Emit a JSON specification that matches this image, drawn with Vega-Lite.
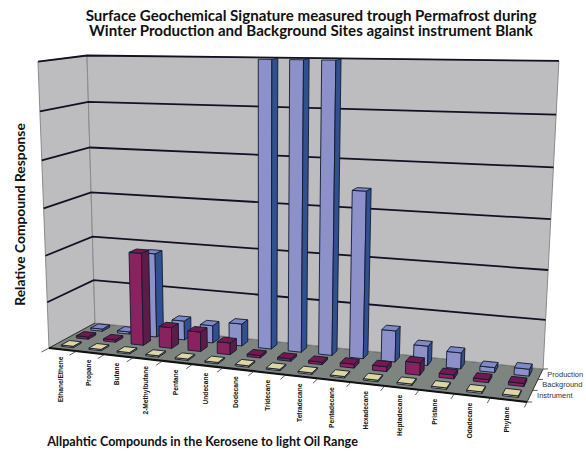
{"$schema":"https://vega.github.io/schema/vega-lite/v6.json","width":586,"height":451,"padding":0,"autosize":{"type":"none"},"background":"white","view":{"stroke":null},
"title":{"text":["Surface Geochemical Signature measured trough Permafrost during","Winter Production and Background Sites against instrument Blank"],"anchor":"middle","dx":18,"dy":43,"font":"Lato","fontWeight":"bold","fontSize":15.1,"lineHeight":15,"color":"#111"},
"datasets":{
"planes":[{"plane":"left"},{"plane":"floor"},{"plane":"back"}],
"levels":[{"level":0},{"level":1},{"level":2},{"level":3},{"level":4},{"level":5},{"level":6}],
"ticks":[{"t":0},{"t":1},{"t":2},{"t":3},{"t":4},{"t":5},{"t":6},{"t":7},{"t":8},{"t":9},{"t":10},{"t":11},{"t":12},{"t":13},{"t":14},{"t":15}],
"depthTicks":[{"t":0},{"t":1},{"t":2},{"t":3}],
"edge":[{"edge":"front"}],
"compounds":[{"compound":"Ethane/Ethene"},{"compound":"Propane"},{"compound":"Butane"},{"compound":"2-Methylbutane"},{"compound":"Pentane"},{"compound":"Undecane"},{"compound":"Dodecane"},{"compound":"Tridecane"},{"compound":"Tetradecane"},{"compound":"Pentadecane"},{"compound":"Hexadecane"},{"compound":"Heptadecane"},{"compound":"Pristane"},{"compound":"Odadecane"},{"compound":"Phytane"}],
"seriesNames":[{"series":"Instrument"},{"series":"Background"},{"series":"Production"}],
"bars":[
{"compound":"Ethane/Ethene","series":"Production","value":0.05},{"compound":"Propane","series":"Production","value":0.05},{"compound":"Butane","series":"Production","value":1.85},{"compound":"2-Methylbutane","series":"Production","value":0.42},{"compound":"Pentane","series":"Production","value":0.38},{"compound":"Undecane","series":"Production","value":0.48},{"compound":"Dodecane","series":"Production","value":6.5},{"compound":"Tridecane","series":"Production","value":6.5},{"compound":"Tetradecane","series":"Production","value":6.5},{"compound":"Pentadecane","series":"Production","value":3.45},{"compound":"Hexadecane","series":"Production","value":0.65},{"compound":"Heptadecane","series":"Production","value":0.4},{"compound":"Pristane","series":"Production","value":0.33},{"compound":"Odadecane","series":"Production","value":0.1},{"compound":"Phytane","series":"Production","value":0.14},
{"compound":"Ethane/Ethene","series":"Background","value":0.05},{"compound":"Propane","series":"Background","value":0.05},{"compound":"Butane","series":"Background","value":2},{"compound":"2-Methylbutane","series":"Background","value":0.45},{"compound":"Pentane","series":"Background","value":0.42},{"compound":"Undecane","series":"Background","value":0.25},{"compound":"Dodecane","series":"Background","value":0.05},{"compound":"Tridecane","series":"Background","value":0.05},{"compound":"Tetradecane","series":"Background","value":0.05},{"compound":"Pentadecane","series":"Background","value":0.08},{"compound":"Hexadecane","series":"Background","value":0.1},{"compound":"Heptadecane","series":"Background","value":0.25},{"compound":"Pristane","series":"Background","value":0.08},{"compound":"Odadecane","series":"Background","value":0.06},{"compound":"Phytane","series":"Background","value":0.06},
{"compound":"Ethane/Ethene","series":"Instrument","value":0.03},{"compound":"Propane","series":"Instrument","value":0.03},{"compound":"Butane","series":"Instrument","value":0.03},{"compound":"2-Methylbutane","series":"Instrument","value":0.03},{"compound":"Pentane","series":"Instrument","value":0.03},{"compound":"Undecane","series":"Instrument","value":0.03},{"compound":"Dodecane","series":"Instrument","value":0.03},{"compound":"Tridecane","series":"Instrument","value":0.03},{"compound":"Tetradecane","series":"Instrument","value":0.03},{"compound":"Pentadecane","series":"Instrument","value":0.03},{"compound":"Hexadecane","series":"Instrument","value":0.03},{"compound":"Heptadecane","series":"Instrument","value":0.03},{"compound":"Pristane","series":"Instrument","value":0.03},{"compound":"Odadecane","series":"Instrument","value":0.03},{"compound":"Phytane","series":"Instrument","value":0.03}
]},
"encoding":{"x":{"field":"X","type":"quantitative","scale":{"domain":[0,586],"range":[0,586],"nice":false},"axis":{"title":"Allpahtic Compounds in the Kerosene to light Oil Range","titleFont":"Lato","titleFontWeight":"bold","titleFontSize":12.6,"titleColor":"#111","titleX":202,"titleY":-10,"titleBaseline":"middle","labels":false,"ticks":false,"domain":false,"grid":false}},
"y":{"field":"Y","type":"quantitative","scale":{"domain":[451,0],"range":[451,0],"nice":false},"axis":{"title":"Relative Compound Response","titleFont":"Lato","titleFontWeight":"bold","titleFontSize":13.8,"titleColor":"#111","titleX":20,"titleY":214,"titleBaseline":"middle","labels":false,"ticks":false,"domain":false,"grid":false}}},
"resolve":{"scale":{"fill":"independent","stroke":"independent"}},
"layer":[
{"data":{"name":"planes"},
"transform":[{"calculate":"[0,1,2,3]","as":"vtx"},{"flatten":["vtx"]},
{"calculate":"datum.plane=='left'?0:(datum.vtx==0||datum.vtx==3?0:1)","as":"u"},
{"calculate":"datum.plane=='back'?1:datum.plane=='left'?(datum.vtx==0||datum.vtx==3?0:1):(datum.vtx<2?0:1)","as":"v"},
{"calculate":"datum.plane=='floor'?0:(datum.vtx<2?0:1)","as":"w"},
{"calculate":"1-0.142*datum.u+0.072*datum.v-0.0494*datum.w","as":"D"},
{"calculate":"(49+403.2*datum.u+52.84*datum.v-12.88*datum.w)/datum.D","as":"X"},
{"calculate":"(348-3.1*datum.u-1.74*datum.v-289.5*datum.w)/datum.D","as":"Y"}],
"mark":{"type":"line","strokeWidth":1,"interpolate":"linear-closed"},
"encoding":{
"order":{"field":"vtx","type":"quantitative"},"detail":{"field":"plane","type":"nominal"},
"fill":{"field":"plane","type":"nominal","scale":{"domain":["left","floor","back"],"range":["#BDBDBF","#7E8480","#BDBDBF"]},"legend":null},
"stroke":{"field":"plane","type":"nominal","scale":{"domain":["left","floor","back"],"range":["#8a8a8c","#2e322f","#8a8a8c"]},"legend":null}}},
{"data":{"name":"levels"},
"transform":[{"calculate":"[0,1,2]","as":"vtx"},{"flatten":["vtx"]},
{"calculate":"datum.vtx==2?1:0","as":"u"},{"calculate":"datum.vtx==0?0:1","as":"v"},{"calculate":"datum.level/6","as":"w"},
{"calculate":"1-0.142*datum.u+0.072*datum.v-0.0494*datum.w","as":"D"},
{"calculate":"(49+403.2*datum.u+52.84*datum.v-12.88*datum.w)/datum.D","as":"X"},
{"calculate":"(348-3.1*datum.u-1.74*datum.v-289.5*datum.w)/datum.D","as":"Y"},
{"filter":"datum.level>0"}],
"mark":{"type":"line","color":"#111122","strokeWidth":1.8},
"encoding":{"order":{"field":"vtx","type":"quantitative"},"detail":{"field":"level","type":"nominal"},"strokeWidth":{"condition":{"test":"datum.level==6","value":1},"value":1.8}}},
{"data":{"name":"edge"},
"transform":[{"calculate":"49","as":"X"},{"calculate":"348","as":"Y"},{"calculate":"(49+403.2)/0.858","as":"X2"},{"calculate":"(348-3.1)/0.858","as":"Y2"}],
"mark":{"type":"rule","color":"#111","strokeWidth":2},
"encoding":{"x2":{"field":"X2"},"y2":{"field":"Y2"}}},
{"data":{"name":"ticks"},
"transform":[{"calculate":"datum.t/15","as":"u"},
{"calculate":"1-0.142*datum.u","as":"D"},{"calculate":"(49+403.2*datum.u)/datum.D","as":"X"},{"calculate":"(348-3.1*datum.u)/datum.D","as":"Y"},
{"calculate":"1-0.142*datum.u-0.0108","as":"D2"},{"calculate":"(49+403.2*datum.u-7.9)/datum.D2","as":"X2"},{"calculate":"(348-3.1*datum.u+0.26)/datum.D2","as":"Y2"}],
"mark":{"type":"rule","color":"#333","strokeWidth":0.8},
"encoding":{"x2":{"field":"X2"},"y2":{"field":"Y2"}}},
{"data":{"name":"depthTicks"},
"transform":[{"calculate":"datum.t/3","as":"v"},
{"calculate":"1-0.142+0.072*datum.v","as":"D"},{"calculate":"(452.2+52.84*datum.v)/datum.D","as":"X"},{"calculate":"(344.9-1.74*datum.v)/datum.D","as":"Y"},
{"calculate":"datum.X+5","as":"X2"}],
"mark":{"type":"rule","color":"#333","strokeWidth":0.8},
"encoding":{"x2":{"field":"X2"},"y2":{"field":"Y"}}},
{"data":{"name":"bars"},
"transform":[
{"calculate":"indexof(['Ethane/Ethene','Propane','Butane','2-Methylbutane','Pentane','Undecane','Dodecane','Tridecane','Tetradecane','Pentadecane','Hexadecane','Heptadecane','Pristane','Odadecane','Phytane'],datum.compound)","as":"i"},
{"calculate":"datum.series=='Instrument'?0.18:datum.series=='Background'?0.5:0.82","as":"vc"},
{"calculate":"(datum.i+0.5)/15","as":"uc"},
{"calculate":"min(datum.value,6)/6","as":"h"},
{"calculate":"['front','right','top']","as":"face"},{"flatten":["face"]},
{"filter":"!(datum.face=='top'&&datum.value>=6)"},
{"calculate":"[0,1,2,3]","as":"vtx"},{"flatten":["vtx"]},
{"calculate":"datum.vtx==0||datum.vtx==3?-1:1","as":"s"},
{"calculate":"datum.vtx<2?-1:1","as":"r"},
{"calculate":"datum.face=='right'?datum.uc+0.0145:datum.uc+0.0145*datum.s","as":"u"},
{"calculate":"datum.face=='front'?datum.vc-0.085:datum.face=='right'?datum.vc+0.085*datum.s:datum.vc+0.085*datum.r","as":"v"},
{"calculate":"datum.face=='top'?datum.h:(datum.vtx<2?0:datum.h)","as":"w"},
{"calculate":"1-0.142*datum.u+0.072*datum.v-0.0494*datum.w","as":"D"},
{"calculate":"(49+403.2*datum.u+52.84*datum.v-12.88*datum.w)/datum.D","as":"X"},
{"calculate":"(348-3.1*datum.u-1.74*datum.v-289.5*datum.w)/datum.D","as":"Y"},
{"calculate":"datum.series+' '+datum.face","as":"shade"},
{"calculate":"datum.compound+'|'+datum.series+'|'+datum.face","as":"box"}],
"mark":{"type":"line","strokeWidth":0.9,"stroke":"#14182e","interpolate":"linear-closed"},
"encoding":{"order":{"field":"vtx","type":"quantitative"},"detail":{"field":"box","type":"nominal"},
"fill":{"field":"shade","type":"nominal","scale":{"domain":["Production front","Production right","Production top","Background front","Background right","Background top","Instrument front","Instrument right","Instrument top"],"range":["#8C92C9","#31508F","#7E8AC6","#8A2260","#5C1C48","#701A50","#D8D2A0","#8C8A66","#DCD6A4"]},"legend":null}}},
{"data":{"name":"compounds"},
"transform":[{"calculate":"indexof(['Ethane/Ethene','Propane','Butane','2-Methylbutane','Pentane','Undecane','Dodecane','Tridecane','Tetradecane','Pentadecane','Hexadecane','Heptadecane','Pristane','Odadecane','Phytane'],datum.compound)","as":"i"},
{"calculate":"(datum.i+0.5)/15","as":"u"},
{"calculate":"1-0.142*datum.u","as":"D"},{"calculate":"(49+403.2*datum.u)/datum.D","as":"X"},{"calculate":"(348-3.1*datum.u)/datum.D","as":"Y"}],
"mark":{"type":"text","angle":270,"align":"right","baseline":"middle","font":"Liberation Sans","fontWeight":"bold","fontSize":6.6,"color":"#111","dy":-2,"dx":-7},
"encoding":{"text":{"field":"compound"}}},
{"data":{"name":"seriesNames"},
"transform":[{"calculate":"datum.series=='Instrument'?0.18:datum.series=='Background'?0.5:0.82","as":"v"},
{"calculate":"1-0.142+0.072*datum.v","as":"D"},{"calculate":"(452.2+52.84*datum.v)/datum.D","as":"X"},{"calculate":"(344.9-1.74*datum.v)/datum.D","as":"Y"}],
"mark":{"type":"text","align":"left","baseline":"middle","font":"Liberation Sans","fontSize":7.5,"color":"#333","dx":7},
"encoding":{"text":{"field":"series"}}}
]}
